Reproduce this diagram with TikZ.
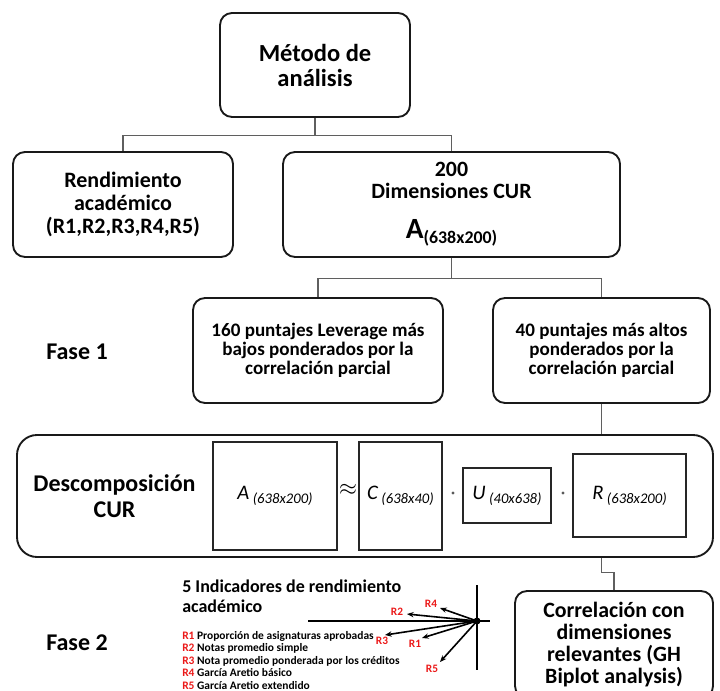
\documentclass[tikz,border=0pt]{standalone}
\usepackage{fontspec}
\setmainfont{Carlito}
\usetikzlibrary{arrows.meta}
\definecolor{linegray}{RGB}{95,95,95}
\definecolor{lblred}{RGB}{235,25,25}
\newcommand{\fsz}[2]{\fontsize{#1}{#2}\selectfont}
\newcommand{\redlbl}[1]{\textcolor{lblred}{#1}}
\newcommand{\matlbl}[2]{{\itshape\fsz{15.5}{15.5}#1\,\raisebox{-3pt}{\fsz{11}{11}#2}}}
\begin{document}
\begin{tikzpicture}[x=0.75pt,y=-0.75pt,
  box/.style={draw=black!90, line width=1.4pt, rounded corners=9pt, inner sep=0pt, align=center},
  mat/.style={draw=black!85, line width=1.1pt, inner sep=0pt},
  conn/.style={draw=linegray, line width=0.8pt},
  axis/.style={draw=black, line width=1.1pt},
  vec/.style={draw=black, line width=1.2pt, -{Stealth[length=5pt,width=4pt]}},
  lbl/.style={font=\bfseries\fsz{18}{19.5}, align=center},
  rlbl/.style={font=\bfseries\fsz{8.5}{9}, text=lblred, inner sep=0pt},
  dot/.style={circle, fill=black!65, inner sep=0pt, minimum size=2.5pt}]
\useasboundingbox (0,0) rectangle (720,691);
\clip (0,0) rectangle (720,691);

% hierarchy
\node[box, minimum width=142.5pt, minimum height=78pt, font=\bfseries\fsz{18.4}{18.75}] (top) at (315,65) {Método de\\análisis};
\node[box, minimum width=165pt, minimum height=78.75pt, font=\bfseries\fsz{16.5}{17.25}] (rend) at (123,204.5) {Rendimiento\\académico\\(R1,R2,R3,R4,R5)};
\node[box, minimum width=252.75pt, minimum height=78.75pt, font=\bfseries\fsz{16.4}{16.5}] (dim) at (451.5,204.5)
  {200\\Dimensiones CUR\\[13pt]{\fsz{22}{22}A}\raisebox{-4pt}{\fsz{13.4}{14}(638x200)}};
\node[box, minimum width=187.5pt, minimum height=78.75pt, font=\bfseries\fsz{14.3}{14.4}] (p160) at (318,350.5) {160 puntajes Leverage más\\bajos ponderados por la\\correlación parcial};
\node[box, minimum width=162.75pt, minimum height=78.75pt, font=\bfseries\fsz{14.3}{14.4}] (p40) at (601.5,350.5) {40 puntajes más altos\\ponderados por la\\correlación parcial};

\draw[conn] (top.south) -- ++(0,18) -| (rend.north);
\draw[conn] (top.south) -- ++(0,18) -| (dim.north);
\draw[conn] (dim.south) -- ++(0,21) -| (p160.north);
\draw[conn] (dim.south) -- ++(0,21) -| (p40.north);

% phase labels
\node[lbl] (f1) at (77,352) {Fase 1};
\node[lbl] (f2) at (77,643) {Fase 2};

% CUR decomposition
\node[box, rounded corners=15pt, minimum width=522pt, minimum height=91.5pt] (cur) at (365,496) {};
\draw[conn] (p40.south) -- (p40.south |- cur.north);
\node[lbl] (desc) at (114.5,496) {Descomposición\\CUR};
\node[mat, minimum width=93pt, minimum height=81pt] (ma) at (275,496) {\matlbl{A}{(638x200)}};
\node[mat, minimum width=62.25pt, minimum height=81pt] (mc) at (400.5,496) {\matlbl{C}{(638x40)}};
\node[mat, minimum width=66pt, minimum height=41.25pt] (mu) at (507,495.5) {\matlbl{U}{(40x638)}};
\node[mat, minimum width=84.75pt, minimum height=62.25pt] (mr) at (629.5,495.5) {\matlbl{R}{(638x200)}};
\node (approx) at (348,490) {\fsz{17}{17}$\approx$};
\node[dot] (d1) at (453,493) {};
\node[dot] (d2) at (563,493) {};

% GH biplot result
\node[box, minimum width=148.5pt, minimum height=80.25pt, font=\bfseries\fsz{16.4}{16.7}] (corr) at (614,644.5) {Correlación con\\dimensiones\\relevantes (GH\\Biplot analysis)};
\draw[conn] (p40.south |- cur.south) -- ++(0,15) -| (corr.north);

% indicators legend
\node[anchor=west, align=left, font=\bfseries\fsz{13.5}{15}, inner sep=0pt] (ind) at (182,596) {5 Indicadores de rendimiento\\académico};
\node[anchor=north west, align=left, font=\bfseries\fsz{8.6}{9.4}, inner sep=0pt] (leg) at (182,631)
  {\redlbl{R1} Proporción de asignaturas aprobadas\\
   \redlbl{R2} Notas promedio simple\\
   \redlbl{R3} Nota promedio ponderada por los créditos\\
   \redlbl{R4} García Aretio básico\\
   \redlbl{R5} García Aretio extendido};

% biplot sketch
\coordinate (o) at (477,621);
\coordinate (hl) at (308,621);
\coordinate (hr) at (490,621);
\coordinate (vt) at (477,585);
\coordinate (vb) at (477,670);
\draw[axis] (hl) -- (hr);
\draw[axis] (vt) -- (vb);
\coordinate (t1) at (422,638);
\coordinate (t2) at (407,614);
\coordinate (t3) at (385,635);
\coordinate (t4) at (440,608);
\coordinate (t5) at (440,662);
\foreach \t in {t1,t2,t3,t4,t5} \draw[vec] (o) -- (\t);
\fill (o) circle (3.5);
\node[rlbl] (l1) at (415,644) {R1};
\node[rlbl] (l2) at (397,612) {R2};
\node[rlbl] (l3) at (382,641) {R3};
\node[rlbl] (l4) at (431,604) {R4};
\node[rlbl] (l5) at (432,669) {R5};
\end{tikzpicture}
\end{document}
